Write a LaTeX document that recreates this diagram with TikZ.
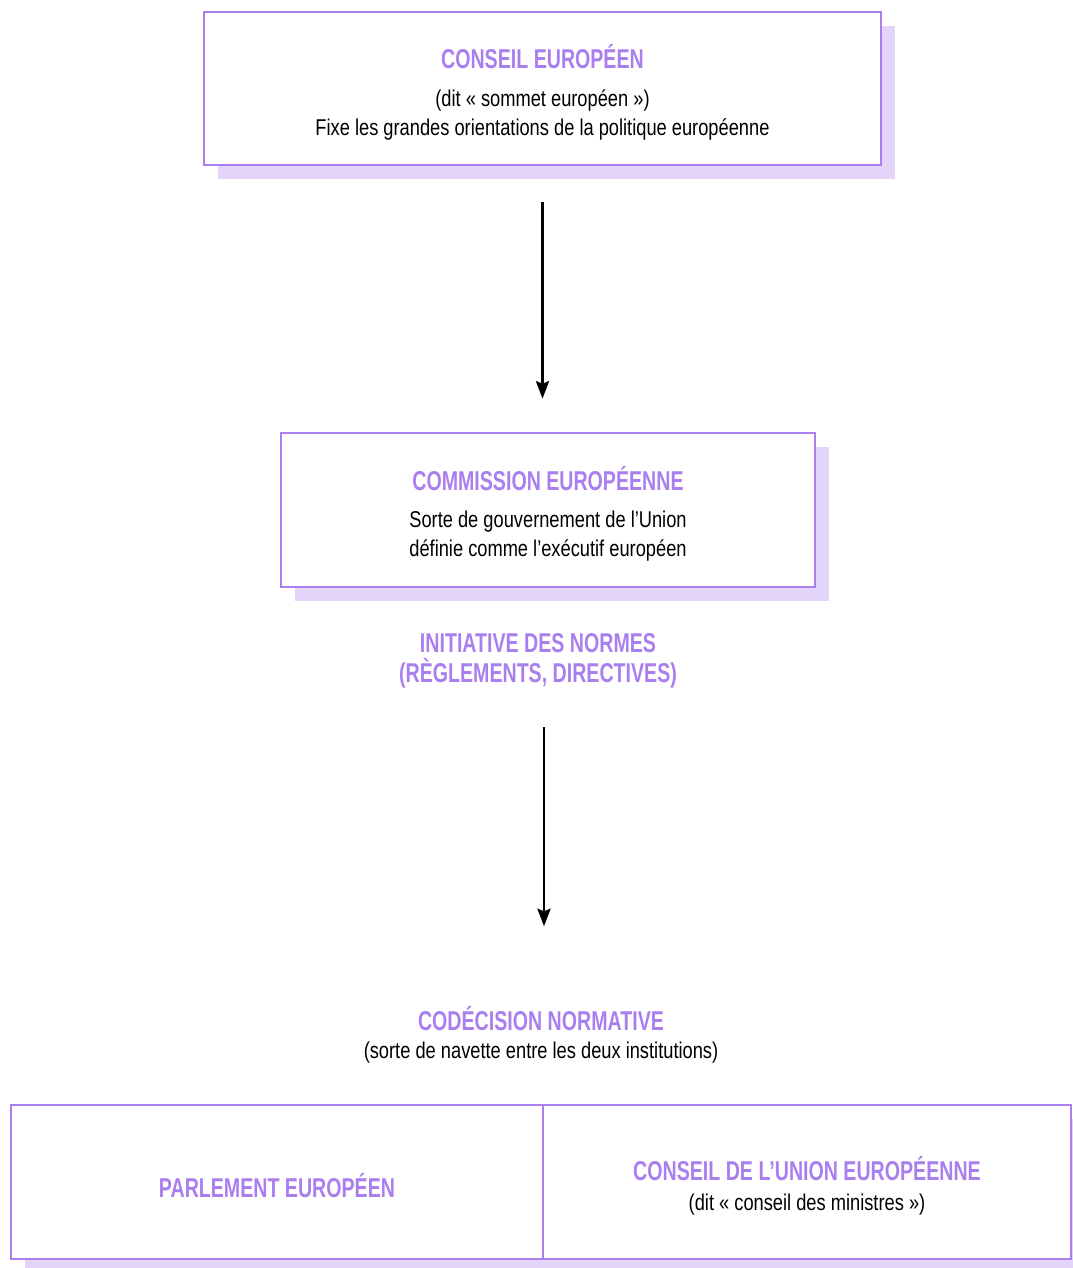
\documentclass[tikz,border=0pt]{standalone}
\usepackage{fontspec}
\setmainfont{Liberation Sans}[FakeStretch=0.8]
\newfontfamily\titlefont{Liberation Sans}[FakeStretch=0.72]
\usetikzlibrary{shadows,arrows.meta}
\definecolor{boxviolet}{HTML}{A97FF0}
\definecolor{shadowviolet}{HTML}{E3D5FA}
\newcommand{\titre}[1]{{\titlefont\bfseries\color{boxviolet}\fontsize{15.5}{18}\selectfont #1}}

\begin{document}
\begin{tikzpicture}[x=0.02cm,y=-0.02cm,
		bigbox/.style={rectangle,draw=boxviolet,line width=1.6pt,fill=white,align=center,
			font=\fontsize{13}{16.5}\selectfont,
			drop shadow={shadow xshift=0.28cm,shadow yshift=-0.28cm,fill=shadowviolet,opacity=1}},
		freetext/.style={align=center,font=\fontsize{13}{16.5}\selectfont},
		flowarrow/.style={-{Stealth[length=10pt,width=7.5pt,inset=1.5pt]},line width=1.3pt}
		]
	\useasboundingbox (0,0) rectangle (1072,1268);
	
	\node[bigbox,minimum width=13.54cm,minimum height=3.06cm] (C0) at (542.5,88.5)
		{\rule{0pt}{18pt}\titre{CONSEIL EUROPÉEN}\\[4.9pt](dit « sommet européen »)\\Fixe les grandes orientations de la politique européenne};
	\node[bigbox,minimum width=10.68cm,minimum height=3.08cm] (C1) at (548,510)
		{\rule{0pt}{17.8pt}\titre{COMMISSION EUROPÉENNE}\\[4.3pt]Sorte de gouvernement de l’Union\\définie comme l’exécutif européen};
	\draw[flowarrow,shorten <=0.72cm,shorten >=0.66cm] (C0.south) -- (C0.south |- C1.north);
	
	\node[freetext] (N0) at (538,661) {\titre{INITIATIVE DES NORMES}\\[0.7pt]\titre{(RÈGLEMENTS, DIRECTIVES)}};
	\node[freetext] (N1) at (541,1035) {\titre{CODÉCISION NORMATIVE}\\[-0.4pt](sorte de navette entre les deux institutions)};
	\draw[flowarrow,shorten <=0.65cm,shorten >=1.48cm] ([xshift=0.12cm]N0.south) -- ([xshift=0.12cm]N0.south |- N1.north);
	
	\node[bigbox,minimum width=10.64cm,minimum height=3.08cm] (P0) at (277,1182) {\rule{0pt}{17.8pt}\titre{PARLEMENT EUROPÉEN}};
	\node[bigbox,minimum width=10.56cm,minimum height=3.08cm] (P1) at (807,1182)
		{\rule{0pt}{17.8pt}\titre{CONSEIL DE L’UNION EUROPÉENNE}\\[0.7pt](dit « conseil des ministres »)};
\end{tikzpicture}
\end{document}
